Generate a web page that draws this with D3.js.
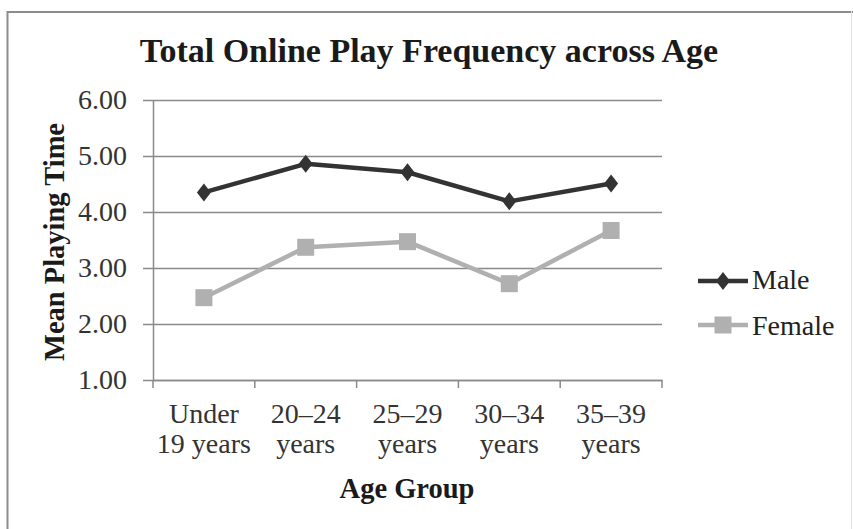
<!DOCTYPE html>
<html>
<head>
<meta charset="utf-8">
<script src="https://cdn.jsdelivr.net/npm/d3@7"></script>
<style>
  html, body { margin: 0; padding: 0; background: #fff; }
  svg { display: block; }
  text { font-family: "Liberation Serif", "Times New Roman", serif; }
</style>
</head>
<body>
<svg id="chart" width="853" height="529"></svg>
<script>
// ---- data ----
const categories = ["Under\n19 years", "20\u201324\nyears", "25\u201329\nyears", "30\u201334\nyears", "35\u201339\nyears"];
const maleValues = [4.35, 4.86, 4.71, 4.19, 4.51];
const femaleValues = [2.47, 3.37, 3.47, 2.72, 3.67];
const yTicks = [1, 2, 3, 4, 5, 6];
const seriesNames = ["Male", "Female"];
const chartTitle = "Total Online Play Frequency across Age";
const yTitle = "Mean Playing Time";
const xTitle = "Age Group";

// ---- layout ----
const svg = d3.select("#chart");
const W = 853, H = 529;
const plot = { left: 153, right: 662, top: 100, bottom: 380 };

// background + frame
svg.append("rect").attr("x", 0).attr("y", 0).attr("width", W).attr("height", H).attr("fill", "#fff");
svg.append("line").attr("x1", 7).attr("x2", W).attr("y1", 12).attr("y2", 12).attr("stroke", "#8c8c8c").attr("stroke-width", 2);
svg.append("line").attr("x1", 7.5).attr("x2", 7.5).attr("y1", 11).attr("y2", H).attr("stroke", "#8c8c8c").attr("stroke-width", 2);
svg.append("line").attr("x1", 851.5).attr("x2", 851.5).attr("y1", 11).attr("y2", H).attr("stroke", "#e0e0e0").attr("stroke-width", 1);

const x = d3.scaleBand().domain(categories).range([plot.left, plot.right]).padding(0);
const y = d3.scaleLinear().domain([1, 6]).range([plot.bottom, plot.top]);

const gridColor = "#8a8a8a";

// y axis with gridlines
const yAxis = svg.append("g")
  .attr("transform", `translate(${plot.left},0)`)
  .call(d3.axisLeft(y).tickValues(yTicks).tickFormat(d3.format(".2f")).tickSizeOuter(0).tickSizeInner(10).tickPadding(16));
yAxis.select(".domain").attr("stroke", gridColor).attr("stroke-width", 1.5);
yAxis.selectAll(".tick line")
  .attr("x1", -10).attr("x2", plot.right - plot.left)
  .attr("stroke", gridColor).attr("stroke-width", 1.5);
yAxis.selectAll(".tick text")
  .attr("font-size", 28).attr("fill", "#333")
  .attr("font-family", "'Liberation Serif', serif");

// x axis
const xAxis = svg.append("g")
  .attr("transform", `translate(0,${plot.bottom})`)
  .call(d3.axisBottom(x).tickSize(0).tickFormat(""));
xAxis.select(".domain").attr("stroke", gridColor).attr("stroke-width", 1.5);
// tick marks at band boundaries
const boundaries = categories.map(c => x(c)).concat([plot.right]);
xAxis.selectAll(".bound").data(boundaries).enter().append("line")
  .attr("x1", d => d).attr("x2", d => d).attr("y1", 0).attr("y2", 8)
  .attr("stroke", gridColor).attr("stroke-width", 1.5);
// category labels (two lines)
categories.forEach(c => {
  const lines = c.split("\n");
  const t = svg.append("text")
    .attr("x", x(c) + x.bandwidth() / 2)
    .attr("y", 423)
    .attr("text-anchor", "middle")
    .attr("font-size", 28).attr("fill", "#333");
  lines.forEach((ln, i) => {
    t.append("tspan").attr("x", x(c) + x.bandwidth() / 2).attr("y", 423 + i * 30).text(ln);
  });
});

// lines
const cx = (d, i) => x(categories[i]) + x.bandwidth() / 2;
const lineGen = d3.line().x(cx).y(d => y(d));
const maleColor = "#333333", femaleColor = "#b0b0b0";

svg.append("path").datum(femaleValues).attr("d", lineGen)
  .attr("fill", "none").attr("stroke", femaleColor).attr("stroke-width", 4.5).attr("stroke-linejoin", "round");
svg.append("path").datum(maleValues).attr("d", lineGen)
  .attr("fill", "none").attr("stroke", maleColor).attr("stroke-width", 4.5).attr("stroke-linejoin", "round");

const diamond = (px, py) => `M${px},${py - 9}L${px + 7},${py}L${px},${py + 9}L${px - 7},${py}Z`;
svg.selectAll(".male-pt").data(maleValues).enter().append("path")
  .attr("d", (d, i) => diamond(cx(d, i), y(d))).attr("fill", maleColor);
const sq = 17;
svg.selectAll(".female-pt").data(femaleValues).enter().append("rect")
  .attr("x", (d, i) => cx(d, i) - sq / 2).attr("y", d => y(d) - sq / 2)
  .attr("width", sq).attr("height", sq).attr("fill", femaleColor);

// legend
const legend = [
  { name: seriesNames[0], color: maleColor, ly: 281, ty: 289, shape: "diamond" },
  { name: seriesNames[1], color: femaleColor, ly: 325, ty: 335, shape: "square" }
];
legend.forEach(l => {
  svg.append("line").attr("x1", 698).attr("x2", 748).attr("y1", l.ly).attr("y2", l.ly)
    .attr("stroke", l.color).attr("stroke-width", 4.5);
  if (l.shape === "diamond") {
    svg.append("path").attr("d", diamond(723, l.ly)).attr("fill", l.color);
  } else {
    svg.append("rect").attr("x", 723 - sq / 2).attr("y", l.ly - sq / 2).attr("width", sq).attr("height", sq).attr("fill", l.color);
  }
  svg.append("text").attr("x", 752).attr("y", l.ty).attr("font-size", 28).attr("fill", "#222").text(l.name);
});

// titles
svg.append("text").attr("x", 429).attr("y", 62).attr("text-anchor", "middle")
  .attr("font-size", 34).attr("font-weight", "bold").attr("fill", "#1a1a1a").text(chartTitle);
svg.append("text").attr("transform", "translate(64,242) rotate(-90)").attr("text-anchor", "middle")
  .attr("font-size", 28.5).attr("font-weight", "bold").attr("fill", "#1a1a1a").text(yTitle);
svg.append("text").attr("x", 407).attr("y", 498).attr("text-anchor", "middle")
  .attr("font-size", 28.5).attr("font-weight", "bold").attr("fill", "#1a1a1a").text(xTitle);
</script>
</body>
</html>
